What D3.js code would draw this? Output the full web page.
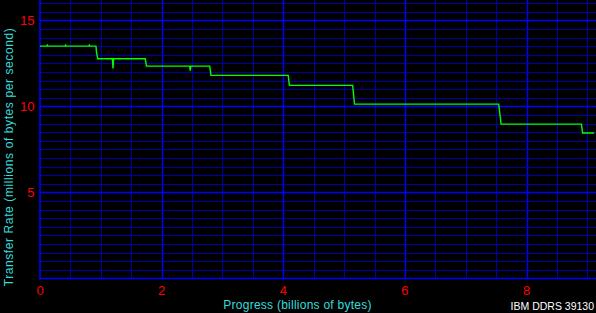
<!DOCTYPE html>
<meta charset="utf-8">
<script src="https://d3js.org/d3.v7.min.js"></script>
<style>
    body { margin: 0; background: #000; }
    svg { display: block; }
    text { font-family: "Liberation Sans", Arial, sans-serif; }
</style>

<body>
    <div id="chart"></div>
</body>
<script>

    // transfer rate vs progress
    var progress = [0, 0.11, 0.12, 0.13, 0.41, 0.42, 0.43, 0.80, 0.81, 0.82, 0.92, 0.93, 0.95,
        1.19, 1.20, 1.21, 1.73, 1.75,
        2.46, 2.47, 2.48, 2.79, 2.81,
        4.08, 4.10, 5.14, 5.17, 7.54, 7.58,
        8.90, 8.92, 9.11];
    var rate = [13.50, 13.50, 13.56, 13.50, 13.50, 13.56, 13.50, 13.50, 13.56, 13.50, 13.50, 13.10, 12.77,
        12.77, 12.20, 12.77, 12.77, 12.34,
        12.34, 12.07, 12.34, 12.34, 11.80,
        11.80, 11.22, 11.22, 10.13, 10.13, 8.97,
        8.97, 8.45, 8.45];

    var xTicks = [0, 2, 4, 6, 8];
    var yTicks = [5, 10, 15];

    var width = 596,
        height = 313;

    var svg = d3.select("#chart")
        .append("svg")
        .attr("width", width)
        .attr("height", height)

    svg.append("rect")
        .attr("width", width)
        .attr("height", height)
        .style("fill", "#000")

    var x = d3.scaleLinear().domain([0, 9.14]).range([40, 596])
    var y = d3.scaleLinear().domain([0, 16.18]).range([278.5, 0])

    // grid, minor every 0.5
    var vLines = d3.range(0.5, 9.1, 0.5)
    var hLines = d3.range(0.5, 16.1, 0.5)

    svg.selectAll(".vgrid")
        .data(vLines)
        .enter()
        .append("line")
        .attr("x1", function (d) { return Math.round(x(d)) + 0.5 })
        .attr("x2", function (d) { return Math.round(x(d)) + 0.5 })
        .attr("y1", 0)
        .attr("y2", y(0))
        .style("stroke", function (d) { return d % 2 == 0 ? "#0000ff" : "#0000a8" })
        .style("stroke-width", function (d) { return d % 2 == 0 ? 1.4 : 1 })

    svg.selectAll(".hgrid")
        .data(hLines)
        .enter()
        .append("line")
        .attr("x1", x(0))
        .attr("x2", width)
        .attr("y1", function (d) { return Math.round(y(d)) + 0.5 })
        .attr("y2", function (d) { return Math.round(y(d)) + 0.5 })
        .style("stroke", function (d) { return d % 5 == 0 ? "#0000ff" : "#0000a8" })
        .style("stroke-width", function (d) { return d % 5 == 0 ? 1.4 : 1 })

    // axes lines
    svg.append("line")
        .attr("x1", x(0)).attr("x2", x(0))
        .attr("y1", 0).attr("y2", y(0) + 1)
        .style("stroke", "#0000ff").style("stroke-width", 1.6)
    svg.append("line")
        .attr("x1", x(0)).attr("x2", width)
        .attr("y1", y(0)).attr("y2", y(0))
        .style("stroke", "#0000ff").style("stroke-width", 1.6)

    // tick labels
    svg.selectAll(".xlab")
        .data(xTicks)
        .enter()
        .append("text")
        .attr("x", function (d) { return x(d) })
        .attr("y", 295)
        .attr("text-anchor", "middle")
        .style("font-size", "13px")
        .style("fill", "#ff0000")
        .text(function (d) { return d })

    svg.selectAll(".ylab")
        .data(yTicks)
        .enter()
        .append("text")
        .attr("x", 34.5)
        .attr("y", function (d) { return y(d) + 5 })
        .attr("text-anchor", "end")
        .style("font-size", "13px")
        .style("fill", "#ff0000")
        .text(function (d) { return d })

    // axis titles
    svg.append("text")
        .attr("x", 297.5)
        .attr("y", 309)
        .attr("text-anchor", "middle")
        .style("font-size", "12px")
        .style("letter-spacing", "0.25px")
        .style("fill", "#33dddd")
        .text("Progress (billions of bytes)")

    svg.append("text")
        .attr("transform", "translate(13,157) rotate(-90)")
        .attr("text-anchor", "middle")
        .style("font-size", "12px")
        .style("letter-spacing", "0.6px")
        .style("fill", "#33dddd")
        .text("Transfer Rate (millions of bytes per second)")

    svg.append("text")
        .attr("x", 594)
        .attr("y", 310)
        .attr("text-anchor", "end")
        .style("font-size", "10.5px")
        .style("fill", "#ffffff")
        .text("IBM DDRS 39130")

    // the trace
    var line = d3.line()
        .x(function (d) { return x(d[0]) })
        .y(function (d) { return y(d[1]) })

    svg.append("path")
        .datum(d3.zip(progress, rate))
        .attr("d", line)
        .style("fill", "none")
        .style("stroke", "#00ff00")
        .style("stroke-width", 1.4)

</script>
